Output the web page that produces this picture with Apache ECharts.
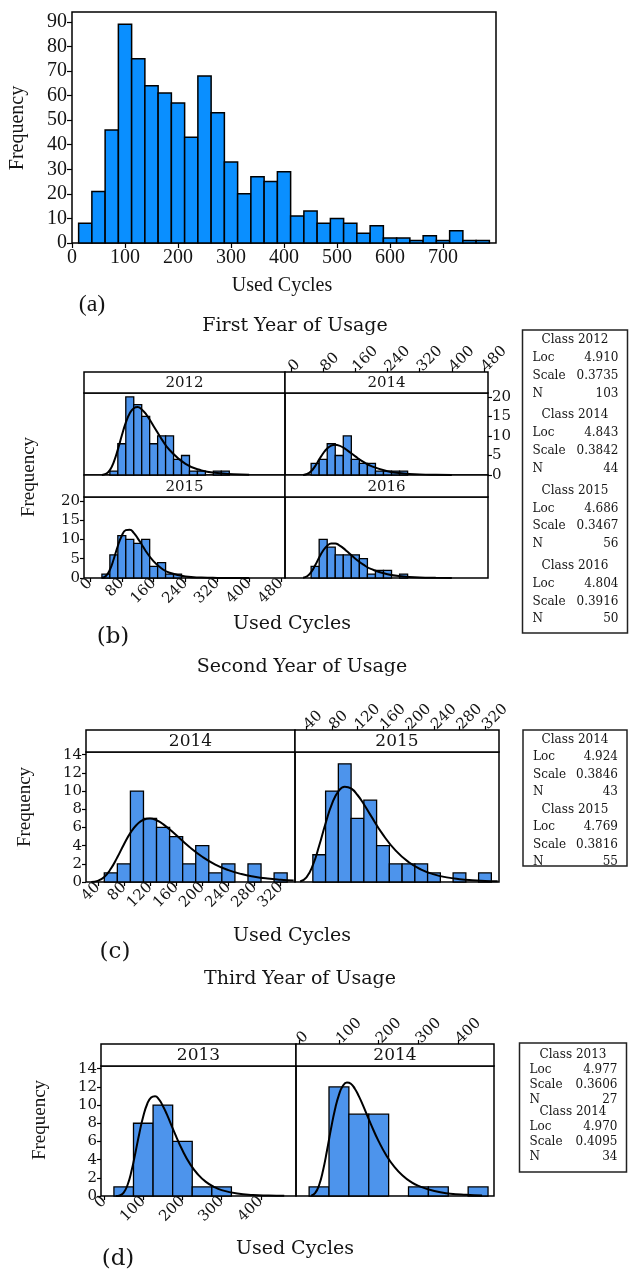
<!DOCTYPE html>
<html>
<head>
<meta charset="utf-8">
<title>Used cycles per year of usage</title>
<script src="https://cdn.jsdelivr.net/npm/echarts@6/dist/echarts.min.js"></script>
<style>
html, body { margin: 0; padding: 0; background: #fff; }
#chart { width: 631px; height: 1269px; }
</style>
</head>
<body>
<div id="chart"></div>
<script>
// ---------- data ----------
// (a) first year of usage, all classes, bins of 25 cycles
const aBinWidth = 25;
const aCenters = [25, 50, 75, 100, 125, 150, 175, 200, 225, 250, 275, 300, 325, 350, 375, 400,
  425, 450, 475, 500, 525, 550, 575, 600, 625, 650, 675, 700, 725, 750, 775];
const aCounts = [8, 21, 46, 89, 75, 64, 61, 57, 43, 68, 53, 33, 20, 27, 25, 29,
  11, 13, 8, 10, 8, 4, 7, 2, 2, 1, 3, 1, 5, 1, 1];
const aXTicks = [0, 100, 200, 300, 400, 500, 600, 700];
const aYTicks = [0, 10, 20, 30, 40, 50, 60, 70, 80, 90];

// (b) second year of usage, bins of 20 cycles
const bClasses = ['2012', '2014', '2015', '2016'];
const bBinWidth = 20;
const bCenters = [40, 60, 80, 100, 120, 140, 160, 180, 200, 220, 240, 260, 280, 300, 320, 340];
const b2012Counts = [0, 1, 8, 20, 18, 15, 8, 10, 10, 4, 5, 1, 1, 0, 1, 1];
const b2014Counts = [0, 3, 4, 8, 5, 10, 4, 3, 3, 1, 1, 1, 1, 0, 0, 0];
const b2015Counts = [1, 6, 11, 10, 9, 10, 3, 4, 1, 1, 0, 0, 0, 0, 0, 0];
const b2016Counts = [0, 3, 10, 8, 6, 6, 6, 5, 1, 2, 2, 0, 1, 0, 0, 0];
const bCurveX = [30, 40, 50, 60, 70, 80, 90, 100, 110, 120, 130, 140, 160, 180, 200, 240, 280, 320, 360, 400];
const b2012Curve = [0.02, 0.26, 1.24, 3.37, 6.5, 10.1, 13.4, 15.8, 17.1, 17.4, 16.8, 15.7, 12.5, 9.2, 6.4, 2.85, 1.19, 0.49, 0.2, 0.08];
const b2014Curve = [0.03, 0.25, 0.97, 2.28, 3.94, 5.56, 6.81, 7.54, 7.75, 7.53, 7.0, 6.31, 4.76, 3.35, 2.27, 0.96, 0.39, 0.16, 0.06, 0.02];
const b2015Curve = [0.04, 0.52, 2.13, 5.0, 8.29, 10.97, 12.4, 12.54, 11.71, 10.29, 8.7, 7.01, 4.29, 2.46, 1.36, 0.39, 0.11, 0.03, 0.01, 0];
const b2016Curve = [0.06, 0.44, 1.52, 3.28, 5.31, 7.13, 8.37, 8.95, 8.94, 8.48, 7.75, 6.84, 5.01, 3.46, 2.3, 0.95, 0.38, 0.15, 0.06, 0.02];
const bXTicks = [0, 80, 160, 240, 320, 400, 480];
const bYTicks = [0, 5, 10, 15, 20];
const bLoc = ['4.910', '4.843', '4.686', '4.804'];
const bScale = ['0.3735', '0.3842', '0.3467', '0.3916'];
const bN = ['103', '44', '56', '50'];

// (c) third year of usage, bins of 20 cycles
const cClasses = ['2014', '2015'];
const cBinWidth = 20;
const cCenters = [60, 80, 100, 120, 140, 160, 180, 200, 220, 240, 260, 280, 300, 320];
const c2014Counts = [1, 2, 10, 7, 6, 5, 2, 4, 1, 2, 0, 2, 0, 1];
const c2015Counts = [3, 10, 13, 7, 9, 4, 2, 2, 2, 1, 0, 1, 0, 1];
const cCurveX = [30, 40, 50, 60, 70, 80, 90, 100, 110, 120, 130, 140, 160, 180, 200, 220, 240, 260, 280, 300, 320, 340];
const c2014Curve = [0.01, 0.13, 0.56, 1.45, 2.72, 4.13, 5.4, 6.32, 6.85, 6.98, 6.79, 6.37, 5.16, 3.88, 2.78, 1.92, 1.31, 0.87, 0.58, 0.38, 0.25, 0.16];
const c2015Curve = [0.06, 0.52, 1.85, 4.01, 6.47, 8.6, 9.97, 10.49, 10.29, 9.57, 8.56, 7.41, 5.21, 3.45, 2.2, 1.37, 0.84, 0.51, 0.31, 0.19, 0.12, 0.07];
const cXTicks = [40, 80, 120, 160, 200, 240, 280, 320];
const cYTicks = [0, 2, 4, 6, 8, 10, 12, 14];
const cLoc = ['4.924', '4.769'];
const cScale = ['0.3846', '0.3816'];
const cN = ['43', '55'];

// (d) fourth year of usage, bins of 50 cycles
const dClasses = ['2013', '2014'];
const dBinWidth = 50;
const dCenters = [50, 100, 150, 200, 250, 300, 350, 400, 450];
const d2013Counts = [1, 8, 10, 6, 1, 1, 0, 0, 0];
const d2014Counts = [1, 12, 9, 9, 0, 1, 1, 0, 1];
const dCurveX = [30, 40, 50, 60, 70, 80, 90, 100, 110, 120, 130, 140, 150, 160, 180, 200, 220, 240, 260, 280, 300, 340, 380, 420, 460];
const d2013Curve = [0, 0.06, 0.38, 1.24, 2.77, 4.79, 6.91, 8.77, 10.12, 10.83, 10.97, 10.62, 9.91, 9.0, 6.94, 5.03, 3.48, 2.35, 1.55, 1.01, 0.65, 0.27, 0.11, 0.05, 0.02];
const d2014Curve = [0.04, 0.31, 1.18, 2.8, 5.0, 7.38, 9.52, 11.13, 12.12, 12.49, 12.35, 11.8, 10.99, 10.02, 7.93, 6.01, 4.41, 3.18, 2.26, 1.58, 1.11, 0.54, 0.26, 0.13, 0.06];
const dXTicks = [0, 100, 200, 300, 400];
const dYTicks = [0, 2, 4, 6, 8, 10, 12, 14];
const dLoc = ['4.977', '4.970'];
const dScale = ['0.3606', '0.4095'];
const dN = ['27', '34'];

// ---------- chart ----------
const chart = echarts.init(document.getElementById('chart'));

const TIMES = 'Liberation Serif';
const WIDE = 'DejaVu Serif';
const INK = '#141414';
const BLUE_A = '#0a8fff';
const BLUE = '#4d94ec';

function histData(centers, counts, width) {
	return centers.map(function(c, i) {
		return [c - width / 2, c + width / 2, counts[i]];
	});
}

function curveData(xs, ys) {
	return xs.map(function(x, i) {
		return [x, ys[i]];
	});
}

function barRenderer(fill, lw) {
	return function(params, api) {
		if (!api.value(2)) return null;
		const p0 = api.coord([api.value(0), 0]);
		const p1 = api.coord([api.value(1), api.value(2)]);
		return {
			type: 'rect',
			shape: { x: p0[0], y: p1[1], width: p1[0] - p0[0], height: p0[1] - p1[1] },
			style: { fill: fill, stroke: '#000', lineWidth: lw }
		};
	};
}

function hiddenAxis(gridIndex, min, max) {
	return {
		type: 'value', gridIndex: gridIndex, min: min, max: max,
		axisLine: { show: false, onZero: false }, axisTick: { show: false },
		axisLabel: { show: false }, splitLine: { show: false }
	};
}

function tickAxis(gridIndex, min, max, ticks, extra) {
	return Object.assign({
		type: 'value', gridIndex: gridIndex, min: min, max: max,
		axisLine: { show: false, onZero: false },
		splitLine: { show: false },
		axisTick: { show: true, customValues: ticks, length: 4, lineStyle: { color: '#000', width: 1.2 } },
		axisLabel: {
			customValues: ticks, color: INK, fontFamily: WIDE, fontSize: 15, margin: 4,
			showMinLabel: true, showMaxLabel: true
		}
	}, extra || {});
}

// tilted tick labels; on a top axis echarts mirrors the angle, so flip it there
function rotated(ax, pos, offset) {
	ax.position = pos;
	ax.offset = offset || 0;
	ax.axisLabel.rotate = pos === 'top' ? -45 : 45;
	ax.axisLabel.margin = 3;
	return ax;
}

const gridBoxes = [
	[72, 12, 424, 231],     // a
	[84, 393, 201, 82],     // b 2012
	[285, 393, 203, 82],    // b 2014
	[84, 497, 201, 81],     // b 2015
	[285, 497, 203, 81],    // b 2016
	[86, 752, 209, 130],    // c 2014
	[295, 752, 204, 130],   // c 2015
	[101, 1066, 195, 130],  // d 2013
	[296, 1066, 198, 130]   // d 2014
];

const grid = gridBoxes.map(function(b) {
	return {
		left: b[0], top: b[1], width: b[2], height: b[3],
		show: true, borderColor: '#000', borderWidth: 1.5,
		backgroundColor: 'transparent', containLabel: false, outerBoundsMode: 'none'
	};
});

// axes
const axA = tickAxis(0, 0, 800, aXTicks);
axA.axisTick.length = 5;
axA.axisLabel.fontFamily = TIMES;
axA.axisLabel.fontSize = 20;
axA.axisLabel.margin = 5;
const ayA = tickAxis(0, 0, 94, aYTicks);
ayA.axisTick.length = 5;
ayA.axisLabel.fontFamily = TIMES;
ayA.axisLabel.fontSize = 20;
ayA.axisLabel.margin = 5;

const xAxis = [
	axA,
	hiddenAxis(1, -15, 490),
	rotated(tickAxis(2, -15, 490, bXTicks), 'top', 21),
	rotated(tickAxis(3, -15, 490, bXTicks), 'bottom'),
	hiddenAxis(4, -15, 490),
	rotated(tickAxis(5, 22, 342, cXTicks), 'bottom'),
	rotated(tickAxis(6, 22, 342, cXTicks), 'top', 22),
	rotated(tickAxis(7, -8, 490, dXTicks), 'bottom'),
	rotated(tickAxis(8, -8, 490, dXTicks), 'top', 22)
];

const yAxis = [
	ayA,
	hiddenAxis(1, 0, 21),
	tickAxis(2, 0, 21, bYTicks, { position: 'right' }),
	tickAxis(3, 0, 21, bYTicks, { position: 'left' }),
	hiddenAxis(4, 0, 21),
	tickAxis(5, 0, 14.3, cYTicks, { position: 'left' }),
	hiddenAxis(6, 0, 14.3),
	tickAxis(7, 0, 14.3, dYTicks, { position: 'left' }),
	hiddenAxis(8, 0, 14.3)
];

// series
const panels = [
	{ hist: histData(aCenters, aCounts, aBinWidth), fill: BLUE_A, lw: 1.5 },
	{ hist: histData(bCenters, b2012Counts, bBinWidth), curve: curveData(bCurveX, b2012Curve) },
	{ hist: histData(bCenters, b2014Counts, bBinWidth), curve: curveData(bCurveX, b2014Curve) },
	{ hist: histData(bCenters, b2015Counts, bBinWidth), curve: curveData(bCurveX, b2015Curve) },
	{ hist: histData(bCenters, b2016Counts, bBinWidth), curve: curveData(bCurveX, b2016Curve) },
	{ hist: histData(cCenters, c2014Counts, cBinWidth), curve: curveData(cCurveX, c2014Curve) },
	{ hist: histData(cCenters, c2015Counts, cBinWidth), curve: curveData(cCurveX, c2015Curve) },
	{ hist: histData(dCenters, d2013Counts, dBinWidth), curve: curveData(dCurveX, d2013Curve) },
	{ hist: histData(dCenters, d2014Counts, dBinWidth), curve: curveData(dCurveX, d2014Curve) }
];

const series = [];
panels.forEach(function(p, i) {
	series.push({
		type: 'custom',
		xAxisIndex: i, yAxisIndex: i,
		renderItem: barRenderer(p.fill || BLUE, p.lw || 1.3),
		encode: { x: [0, 1], y: 2 },
		data: p.hist,
		silent: true
	});
	if (p.curve) {
		series.push({
			type: 'line',
			xAxisIndex: i, yAxisIndex: i,
			data: p.curve,
			smooth: true,
			showSymbol: false,
			lineStyle: { color: '#000', width: 2 },
			silent: true,
			z: 5
		});
	}
});

// ---------- decorations: strips, labels, legend boxes ----------
function txt(s, x, y, size, family, extra) {
	return Object.assign({
		type: 'text', x: x, y: y, silent: true,
		style: {
			text: s, fill: INK, fontSize: size, fontFamily: family,
			align: 'center', verticalAlign: 'middle'
		}
	}, extra || {});
}

function strip(left, top, width, height, label, size) {
	return [{
		type: 'rect', silent: true,
		shape: { x: left, y: top, width: width, height: height },
		style: { fill: '#fff', stroke: '#000', lineWidth: 1.5 }
	}, txt(label, left + width / 2, top + height / 2 + 1, size, WIDE)];
}

function legendBox(x, y, w, h, classes, locs, scales, ns, first, line, block, size) {
	const els = [{
		type: 'rect', silent: true,
		shape: { x: x, y: y, width: w, height: h },
		style: { fill: '#fff', stroke: '#222', lineWidth: 1.5 }
	}];
	classes.forEach(function(c, i) {
		const y0 = first + i * block;
		els.push(txt('Class ' + c, x + w / 2, y0, size, WIDE));
		const rows = [['Loc', locs[i]], ['Scale', scales[i]], ['N', ns[i]]];
		rows.forEach(function(r, k) {
			const yy = y0 + (k + 1) * line;
			els.push(txt(r[0], x + 10, yy, size, WIDE, {}));
			els[els.length - 1].style.align = 'left';
			els.push(txt(r[1], x + w - 9, yy, size, WIDE, {}));
			els[els.length - 1].style.align = 'right';
		});
	});
	return els;
}

let graphic = [];
// panel (a)
graphic.push(txt('Frequency', 18, 128, 20, TIMES, { rotation: Math.PI / 2 }));
graphic.push(txt('Used Cycles', 282, 286, 20, TIMES));
graphic.push(txt('(a)', 92, 305, 24, TIMES));
graphic.push(txt('First Year of Usage', 295, 326, 19, WIDE));
// panel (b)
graphic = graphic.concat(
	strip(84, 372, 201, 21, bClasses[0], 15),
	strip(285, 372, 203, 21, bClasses[1], 15),
	strip(84, 475, 201, 22, bClasses[2], 15),
	strip(285, 475, 203, 22, bClasses[3], 15)
);
graphic.push(txt('Frequency', 29, 477, 19, TIMES, { rotation: Math.PI / 2 }));
graphic.push(txt('Used Cycles', 292, 624, 19, WIDE));
graphic.push(txt('(b)', 113, 637, 23, WIDE));
graphic.push(txt('Second Year of Usage', 302, 667, 19, WIDE));
graphic = graphic.concat(legendBox(522.5, 330, 105, 303, bClasses, bLoc, bScale, bN, 340, 17.8, 75.3, 12));
// panel (c)
graphic = graphic.concat(
	strip(86, 730, 209, 22, cClasses[0], 17),
	strip(295, 730, 204, 22, cClasses[1], 17)
);
graphic.push(txt('Frequency', 25, 807, 19, TIMES, { rotation: Math.PI / 2 }));
graphic.push(txt('Used Cycles', 292, 936, 19, WIDE));
graphic.push(txt('(c)', 115, 952, 23, WIDE));
graphic.push(txt('Third Year of Usage', 300, 979, 19, WIDE));
graphic = graphic.concat(legendBox(523, 730, 104, 136, cClasses, cLoc, cScale, cN, 740, 17.3, 70, 12));
// panel (d)
graphic = graphic.concat(
	strip(101, 1044, 195, 22, dClasses[0], 17),
	strip(296, 1044, 198, 22, dClasses[1], 17)
);
graphic.push(txt('Frequency', 40, 1120, 19, TIMES, { rotation: Math.PI / 2 }));
graphic.push(txt('Used Cycles', 295, 1249, 19, WIDE));
graphic.push(txt('(d)', 118, 1259, 23, WIDE));
graphic = graphic.concat(legendBox(519.5, 1043, 107, 129, dClasses, dLoc, dScale, dN, 1055, 15, 57, 12));

const option = {
	backgroundColor: '#fff',
	animation: false,
	grid: grid,
	xAxis: xAxis,
	yAxis: yAxis,
	series: series,
	graphic: graphic
};
chart.setOption(option);
</script>
</body>
</html>
